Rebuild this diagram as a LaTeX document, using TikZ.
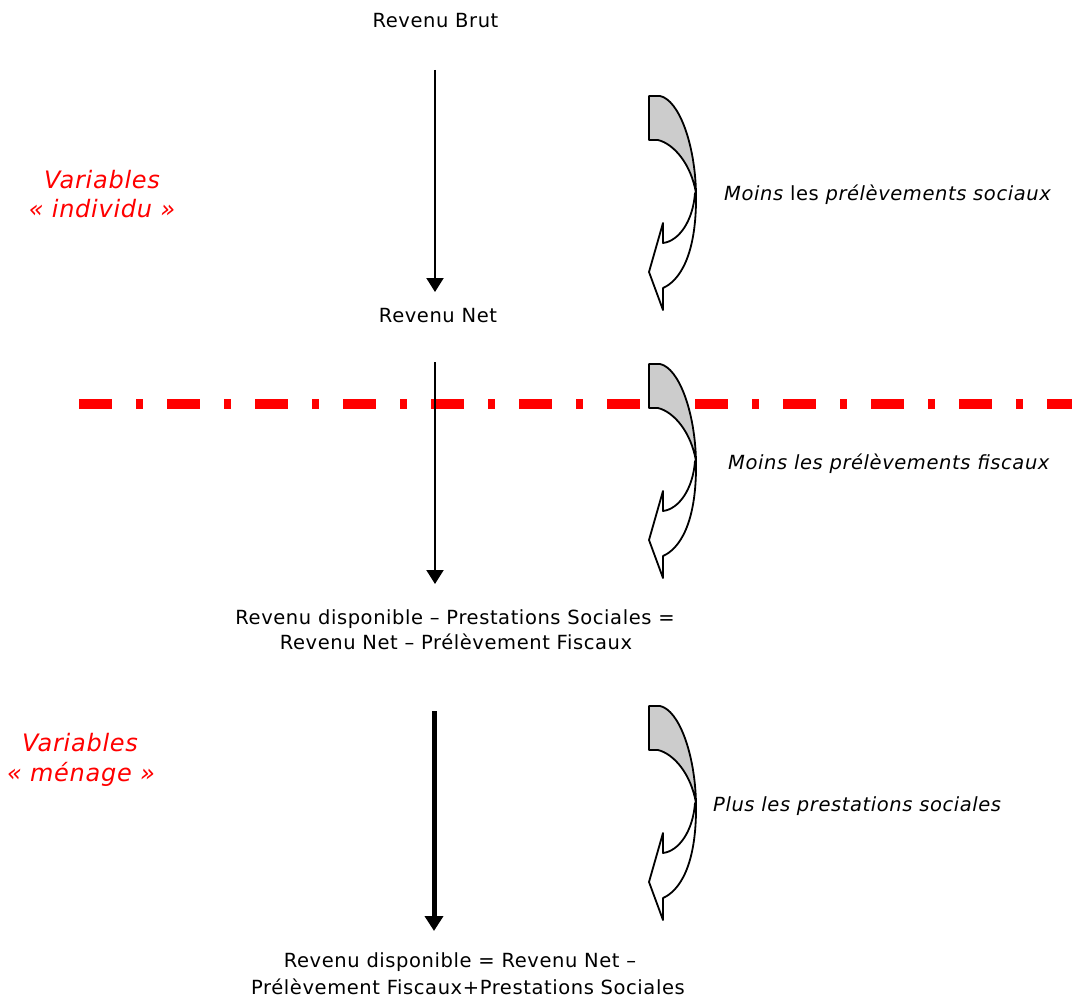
\documentclass[tikz,border=0pt]{standalone}
\usepackage{fontspec}
\setmainfont{DejaVu Sans}[LetterSpace=3]
\usetikzlibrary{arrows.meta}
\definecolor{grayfill}{RGB}{204,204,204}
\newcommand{\curlshape}[1]{%
 \begin{scope}[shift={(649,#1)}]
  \path[curlback] (0,0) -- (11,0) .. controls (30,4) and (46,48) .. (47,97)
     .. controls (42,68) and (25,48) .. (9,44) -- (0,44) -- cycle;
  \path[curlfront] (46,97) .. controls (44,125) and (30,145) .. (14,147)
     -- (14,127) -- (0,176) -- (14,214) -- (14,192)
     .. controls (30,185) and (48,160) .. (47,97) -- cycle;
 \end{scope}}
\tikzset{
 lbl/.style={font=\fontsize{19.5}{24}\selectfont, inner sep=0pt, anchor=base},
 side/.style={font=\fontsize{19.5}{24}\selectfont\itshape, inner sep=0pt, anchor=base west},
 redlbl/.style={font=\fontsize{24}{29}\selectfont\itshape, text=red, inner sep=0pt, anchor=base},
 flow/.style={line width=2pt, -{Triangle[width=17pt,length=14pt]}},
 flowthick/.style={line width=5pt, -{Triangle[width=18pt,length=15pt]}},
 sepline/.style={red, line width=10pt, dash pattern=on 33pt off 24pt on 7pt off 24pt},
 curlback/.style={draw=black, fill=grayfill, line width=1.8pt, line join=round},
 curlfront/.style={draw=black, fill=white, line width=1.8pt, line join=round},
}
\begin{document}
\begin{tikzpicture}[x=1pt,y=-1pt]
\useasboundingbox[fill=white] (0,0) rectangle (1072,998);

% texts
\node[lbl] (brut) at (435.5,28) {Revenu Brut};
\node[lbl] (net) at (438,322) {Revenu Net};
\node[lbl] (disp1a) at (455,624) {Revenu disponible – Prestations Sociales =};
\node[lbl] (disp1b) at (456,649) {Revenu Net – Prélèvement Fiscaux};
\node[lbl] (disp2a) at (460,967) {Revenu disponible = Revenu Net –};
\node[lbl] (disp2b) at (468,994) {Prélèvement Fiscaux+Prestations Sociales};

\node[side] (s1) at (724,200) {Moins {\upshape les} prélèvements sociaux};
\node[side] (s2) at (728,469) {Moins les prélèvements fiscaux};
\node[side] (s3) at (713,811) {Plus les prestations sociales};

\node[redlbl] (v1a) at (102,188) {Variables};
\node[redlbl] (v1b) at (102,217) {« individu »};
\node[redlbl] (v2a) at (80,751) {Variables};
\node[redlbl] (v2b) at (81,781) {« ménage »};

% separator
\draw[sepline] (79,404) -- (1072,404);

% flow arrows
\coordinate (a1s) at (435,70);
\coordinate (a1e) at (435,292);
\coordinate (a2s) at (435,362);
\coordinate (a2e) at (435,584);
\coordinate (a3s) at (434,711);
\coordinate (a3e) at (434,931);
\draw[flow] (a1s) -- (a1e);
\draw[flow] (a2s) -- (a2e);
\draw[flowthick] (a3s) -- (a3e);

% curled arrows
\curlshape{96}
\curlshape{364}
\curlshape{706}
\end{tikzpicture}
\end{document}
